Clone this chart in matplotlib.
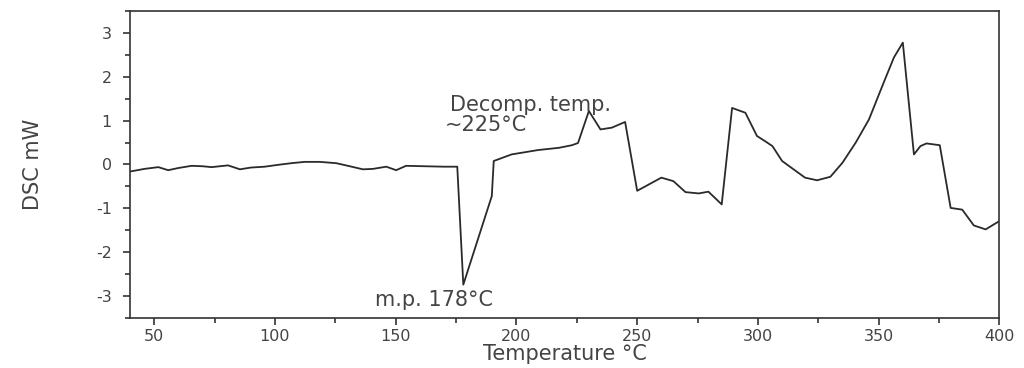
import matplotlib
matplotlib.use("Agg")
import matplotlib.pyplot as plt
from matplotlib.ticker import MultipleLocator

# DSC trace: temperature (°C) and heat flow (mW)
temperature = [40, 46, 51.7, 55.8, 60, 65.5, 70, 73.8, 80.6, 85.5, 90, 95.8,
               101, 106.8, 112.3, 118.5, 125.4, 131, 136.4, 140.6, 146.1,
               150.2, 154.3, 162, 170, 175.5, 178, 189.8,
               190.6, 198, 209, 217.5, 223, 225.5, 230, 234.8, 239.5, 245, 250,
               260, 265, 270, 275.5, 279.5, 285, 289.3, 294.8, 299.6, 303, 306,
               310, 314, 319.5, 324.5, 330, 335, 340.5, 346, 351.5, 356.3, 360,
               364.6, 367.3, 369.8, 375.3, 379.8, 384.6, 389.4, 394.3, 400]
dsc = [-0.16, -0.10, -0.06, -0.13, -0.08, -0.03, -0.04, -0.06, -0.02, -0.11,
       -0.07, -0.05, -0.01, 0.03, 0.06, 0.06, 0.03, -0.04, -0.11, -0.10,
       -0.05, -0.13, -0.03, -0.04, -0.05, -0.05, -2.74, -0.72,
       0.08, 0.23, 0.33, 0.38, 0.44,
       0.49, 1.22, 0.80, 0.84, 0.97, -0.60, -0.30, -0.38, -0.63, -0.66, -0.62,
       -0.91, 1.29, 1.18, 0.65, 0.53, 0.42, 0.08, -0.08, -0.30, -0.36, -0.28,
       0.04, 0.50, 1.03, 1.79, 2.44, 2.78, 0.23, 0.42, 0.48, 0.44, -0.99,
       -1.03, -1.39, -1.48, -1.29]

plt.rcParams['font.family'] = ['DejaVu Sans']
plt.rcParams['axes.unicode_minus'] = False
txt = '#444444'

fig = plt.figure(figsize=(10.24, 3.68), dpi=100)
ax = fig.add_axes([0.127, 0.136, 0.849, 0.834])

ax.plot(temperature, dsc, color='#2a2a2a', lw=1.3)

ax.set_xlim(40, 400)
ax.set_ylim(-3.5, 3.5)
ax.xaxis.set_major_locator(MultipleLocator(50))
ax.xaxis.set_minor_locator(MultipleLocator(25))
ax.yaxis.set_major_locator(MultipleLocator(1))
ax.yaxis.set_minor_locator(MultipleLocator(0.5))
ax.tick_params(which='major', direction='out', length=5, width=1.2,
               colors='#333333', labelcolor=txt, labelsize=11.5, pad=3)
ax.tick_params(axis='y', which='major', pad=8)
ax.tick_params(which='minor', direction='out', length=3.5, width=1.2,
               colors='#333333')
for s in ax.spines.values():
    s.set_color('#333333')
    s.set_linewidth(1.2)

ax.set_xlabel('Temperature °C', fontsize=15, color=txt, labelpad=0)
ax.set_ylabel('DSC mW', fontsize=15, color=txt, labelpad=38)

ax.text(172.4, 1.35, 'Decomp. temp.', fontsize=15, color=txt,
        ha='left', va='center')
ax.text(170.3, 0.90, '~225°C', fontsize=15, color=txt,
        ha='left', va='center')
ax.text(141.3, -3.08, 'm.p. 178°C', fontsize=15, color=txt,
        ha='left', va='center')

fig.savefig('out.png', dpi=100)
